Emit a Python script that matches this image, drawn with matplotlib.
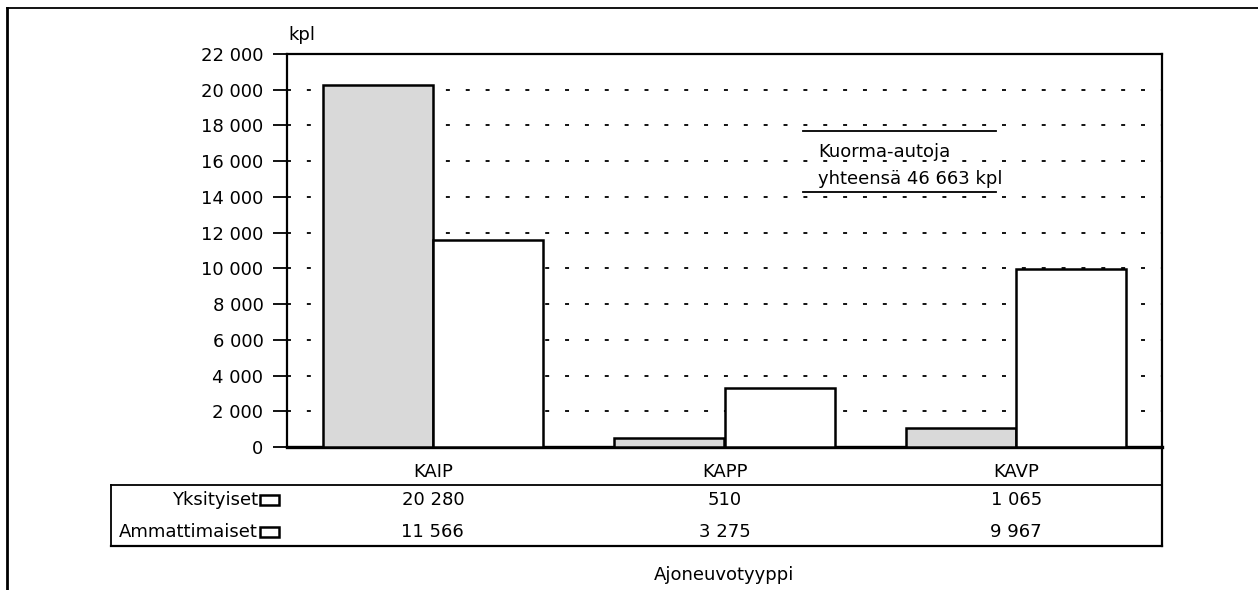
import matplotlib
matplotlib.use("Agg")
import matplotlib.pyplot as plt
from matplotlib.ticker import FuncFormatter, MultipleLocator
from matplotlib.lines import Line2D
from matplotlib.patches import Rectangle
import matplotlib.transforms as mtrans
import numpy as np

plt.rcParams['font.family'] = ['DejaVu Sans']

categories = ["KAIP", "KAPP", "KAVP"]
series_names = ["Yksityiset", "Ammattimaiset"]
yksityiset = [20280, 510, 1065]
ammattimaiset = [11566, 3275, 9967]
total_label_lines = ["Kuorma-autoja", "yhteensä 46 663 kpl"]
y_unit = "kpl"
x_title = "Ajoneuvotyyppi"

W, H = 1258, 590
fig = plt.figure(figsize=(W / 100, H / 100), dpi=100)

def fx(px):
    return px / W

def fy(py):
    return 1 - py / H

def fmt(v):
    return f"{int(v):,}".replace(",", " ")

FS = 13

ax = fig.add_axes([fx(287), fy(447), fx(1162) - fx(287), fy(54) - fy(447)])

x = np.arange(len(categories))
bw = 0.378
ax.bar(x - bw / 2, yksityiset, bw, color="#d9d9d9", edgecolor="black", linewidth=1.8, zorder=3)
ax.bar(x + bw / 2, ammattimaiset, bw, color="white", edgecolor="black", linewidth=1.8, zorder=3)

ax.set_xlim(-0.5, len(categories) - 0.5)
ax.set_ylim(0, 22000)
ax.yaxis.set_major_locator(MultipleLocator(2000))
ax.yaxis.set_major_formatter(FuncFormatter(lambda v, p: fmt(v)))
ax.set_xticks([])
ax.tick_params(axis="y", direction="out", length=10, width=1.3, labelsize=FS, pad=7)
ax.grid(axis="y", color="black", linestyle=(0, (2.2, 8.8)), linewidth=1.3, zorder=1)
for s in ax.spines.values():
    s.set_linewidth(1.6)
ax.spines["bottom"].set_linewidth(2.4)

fig.text(fx(302), fy(35), y_unit, fontsize=FS, ha="center", va="center")

# annotation
ax.text(0.607, 0.7506, total_label_lines[0], transform=ax.transAxes, fontsize=FS,
        ha="left", va="center", zorder=5)
ax.text(0.607, 0.682, total_label_lines[1], transform=ax.transAxes, fontsize=FS,
        ha="left", va="center", zorder=5)
ax.add_line(Line2D([0.5897, 0.81], [0.804, 0.804], transform=ax.transAxes, color="black", lw=1.3))
ax.add_line(Line2D([0.5897, 0.81], [0.649, 0.649], transform=ax.transAxes, color="black", lw=1.3))

# data table
bt = mtrans.blended_transform_factory(ax.transData, fig.transFigure)
row_y = [500, 532]
for i, c in enumerate(categories):
    ax.text(i, fy(472), c, transform=bt, fontsize=FS, ha="center", va="center", clip_on=False)
    ax.text(i, fy(row_y[0]), fmt(yksityiset[i]), transform=bt, fontsize=FS,
            ha="center", va="center", clip_on=False)
    ax.text(i, fy(row_y[1]), fmt(ammattimaiset[i]), transform=bt, fontsize=FS,
            ha="center", va="center", clip_on=False)

row_colors = ["white", "white"]
for name, py, col in zip(series_names, row_y, row_colors):
    fig.text(fx(258), fy(py), name, fontsize=FS, ha="right", va="center")
    fig.add_artist(Rectangle((fx(260), fy(py + 5)), fx(19), fy(py - 5) - fy(py + 5),
                             facecolor=col, edgecolor="black", lw=1.8))

def fline(xs, ys, lw=1.3):
    fig.add_artist(Line2D([fx(v) for v in xs], [fy(v) for v in ys], color="black", lw=lw))

fline([111, 1162], [485, 485])
fline([111, 1162], [546, 546], lw=1.6)
fline([111, 111], [485, 546])
fline([1162, 1162], [447, 546], lw=1.6)

ax.text(1, fy(575), x_title, transform=bt, fontsize=FS, ha="center", va="center", clip_on=False)

# outer frame
fline([7, 1258], [8, 8])
fline([7, 7], [8, 590], lw=2)

fig.savefig("out.png", dpi=100)
